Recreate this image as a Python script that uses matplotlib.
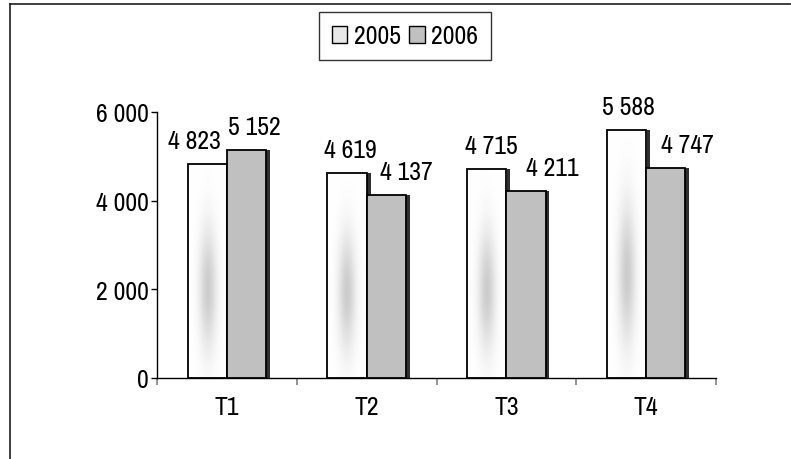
import numpy as np
import matplotlib
matplotlib.use("Agg")
import matplotlib.pyplot as plt
from matplotlib.lines import Line2D
from matplotlib.patches import Patch
import logging
logging.getLogger("matplotlib.font_manager").setLevel(logging.ERROR)

plt.rcParams['font.family'] = ['Liberation Sans Narrow', 'Arial Narrow', 'Archivo Narrow',
                               'PT Sans Narrow', 'Roboto Condensed', 'DejaVu Sans']

categories = ["T1", "T2", "T3", "T4"]
series_names = ["2005", "2006"]
values_2005 = [4823, 4619, 4715, 5588]
values_2006 = [5152, 4137, 4211, 4747]
yticks = [0, 2000, 4000, 6000]
ytick_labels = ["0", "2 000", "4 000", "6 000"]

# label horizontal offsets (pixels) as placed in the reference
off_2005 = [-13, 3, 5, 2]
off_2006 = [8, 20, 26, 22]

W, H, DPI = 791, 460, 100
fig = plt.figure(figsize=(W / DPI, H / DPI), dpi=DPI)
ax = fig.add_axes([157 / W, 1 - 379 / H, (716 - 157) / W, (379 - 113) / H])

x = np.arange(len(categories))
bw = 0.28
shadow_dx = 0.028
FS = 18.5

# shadows
ax.bar(x - bw / 2 + shadow_dx, values_2005, bw, color="#303030", edgecolor="none", zorder=1)
ax.bar(x + bw / 2 + shadow_dx, values_2006, bw, color="#303030", edgecolor="none", zorder=1)

b1 = ax.bar(x - bw / 2, values_2005, bw, color="white", edgecolor="none", zorder=2)
b2 = ax.bar(x + bw / 2, values_2006, bw, color="#C0C0C0", edgecolor="black", linewidth=1.3, zorder=4)

# gradient inside the white bars
gx = np.linspace(0, 1, 60)
gy = np.linspace(0, 1, 200)
GX, GY = np.meshgrid(gx, gy)
blob = 1 - 0.2 * np.exp(-((GX - 0.5) / 0.22) ** 2 - ((GY - 0.42) / 0.28) ** 2)
img = np.dstack([blob, blob, blob])
for p in b1:
    x0, w, h = p.get_x(), p.get_width(), p.get_height()
    ax.imshow(img, extent=(x0, x0 + w, 0, h), origin="lower", aspect="auto",
              interpolation="bilinear", zorder=2.5)
ax.bar(x - bw / 2, values_2005, bw, color="none", edgecolor="black", linewidth=1.3, zorder=3)

for p, v, dx in zip(b1, values_2005, off_2005):
    ax.annotate(f"{v:,}".replace(",", " "), (p.get_x() + p.get_width() / 2, v),
                xytext=(dx, 12), textcoords="offset pixels", ha="center", va="bottom",
                fontsize=FS, zorder=6)
for p, v, dx in zip(b2, values_2006, off_2006):
    ax.annotate(f"{v:,}".replace(",", " "), (p.get_x() + p.get_width() / 2, v),
                xytext=(dx, 12), textcoords="offset pixels", ha="center", va="bottom",
                fontsize=FS, zorder=6)

ax.set_xlim(-0.5, len(categories) - 0.5)
ax.set_ylim(0, 6000)
ax.set_yticks(yticks)
ax.set_yticklabels(ytick_labels, fontsize=FS)
ax.tick_params(axis="y", direction="out", length=4, width=1, pad=2)

ax.set_xticks(np.arange(len(categories) + 1) - 0.5)
ax.set_xticklabels([])
ax.tick_params(axis="x", direction="out", length=5, width=1.2, color="#808080")
ax.set_xticks(x, minor=True)
ax.set_xticklabels(categories, minor=True, fontsize=FS)
ax.tick_params(axis="x", which="minor", length=0, pad=12)

for s in ["top", "right"]:
    ax.spines[s].set_visible(False)
ax.spines["left"].set_linewidth(1.0)
ax.spines["bottom"].set_linewidth(1.0)
ax.patch.set_alpha(0)

handles = [Patch(facecolor="#E8E8E8", edgecolor="black", linewidth=1),
           Patch(facecolor="#C0C0C0", edgecolor="black", linewidth=1)]
leg = fig.legend(handles, series_names, loc="center", bbox_to_anchor=(405 / W, 1 - 37 / H),
                 ncol=2, fontsize=FS, frameon=True, fancybox=False, borderpad=0.5,
                 handlelength=0.6, handleheight=0.6, handletextpad=0.25, columnspacing=0.35,
                 borderaxespad=0)
leg.get_frame().set_edgecolor("black")
leg.get_frame().set_linewidth(1.0)

# outer border (top and left visible)
fig.add_artist(Line2D([10 / W, 790 / W], [1 - 5 / H, 1 - 5 / H], color="#404040", linewidth=1.4,
                      transform=fig.transFigure))
fig.add_artist(Line2D([10 / W, 10 / W], [1 - 5 / H, 0], color="#202020", linewidth=1.2,
                      transform=fig.transFigure))

fig.savefig("out.png", dpi=DPI)
